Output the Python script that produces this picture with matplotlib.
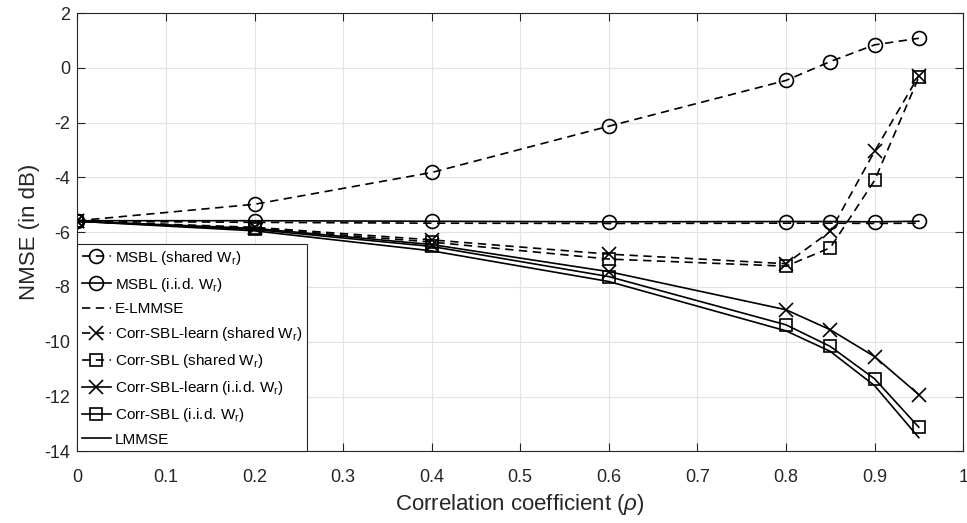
import matplotlib
matplotlib.use("Agg")
import matplotlib.pyplot as plt

plt.rcParams['font.family'] = ['Liberation Sans', 'DejaVu Sans']
plt.rcParams['mathtext.fontset'] = 'custom'
plt.rcParams['mathtext.it'] = 'Liberation Sans:italic'
plt.rcParams['mathtext.rm'] = 'Liberation Sans'
plt.rcParams['axes.unicode_minus'] = False

# Data
rho = [0, 0.2, 0.4, 0.6, 0.8, 0.85, 0.9, 0.95]
msbl_shared = [-5.58, -4.98, -3.82, -2.13, -0.46, 0.23, 0.84, 1.08]
msbl_iid = [-5.58, -5.58, -5.6, -5.62, -5.61, -5.61, -5.62, -5.6]
elmmse = [-5.6, -5.64, -5.67, -5.68, -5.67, -5.67, -5.68, -5.67]
corr_learn_shared = [-5.6, -5.82, -6.28, -6.8, -7.15, -5.97, -3.05, -0.28]
corr_shared = [-5.6, -5.85, -6.36, -6.98, -7.24, -6.57, -4.11, -0.34]
corr_learn_iid = [-5.6, -5.86, -6.45, -7.44, -8.83, -9.56, -10.54, -11.93]
corr_iid = [-5.6, -5.9, -6.52, -7.62, -9.38, -10.17, -11.35, -13.12]
lmmse = [-5.6, -5.95, -6.68, -7.8, -9.6, -10.35, -11.6, -13.5]

fig, ax = plt.subplots(figsize=(9.67, 5.23), dpi=100)
fig.subplots_adjust(left=0.080, right=0.996, top=0.975, bottom=0.137)

lw = 1.2
dash = (5, 3.3)
mk = dict(markerfacecolor='none', markeredgecolor='k', markeredgewidth=1.2)
sub = r'W$_{\mathrm{r}}$'

ax.plot(rho, msbl_shared, 'k--', dashes=dash, lw=lw, marker='o', ms=10, label='MSBL (shared ' + sub + ')', **mk)
ax.plot(rho, msbl_iid, 'k-', lw=lw, marker='o', ms=10, label='MSBL (i.i.d. ' + sub + ')', **mk)
ax.plot(rho, elmmse, 'k--', dashes=dash, lw=lw, label='E-LMMSE')
ax.plot(rho, corr_learn_shared, 'k--', dashes=dash, lw=lw, marker='x', ms=10, label='Corr-SBL-learn (shared ' + sub + ')', **mk)
ax.plot(rho, corr_shared, 'k--', dashes=dash, lw=lw, marker='s', ms=8, label='Corr-SBL (shared ' + sub + ')', **mk)
ax.plot(rho, corr_learn_iid, 'k-', lw=lw, marker='x', ms=10, label='Corr-SBL-learn (i.i.d. ' + sub + ')', **mk)
ax.plot(rho, corr_iid, 'k-', lw=lw, marker='s', ms=8, label='Corr-SBL (i.i.d. ' + sub + ')', **mk)
ax.plot(rho, lmmse, 'k-', lw=lw, label='LMMSE')

# Axes, ticks, grid
ax.set_xlim(0, 1)
ax.set_ylim(-14, 2)
ax.set_xticks([0, 0.1, 0.2, 0.3, 0.4, 0.5, 0.6, 0.7, 0.8, 0.9, 1])
ax.set_xticklabels(['0', '0.1', '0.2', '0.3', '0.4', '0.5', '0.6', '0.7', '0.8', '0.9', '1'])
ax.set_yticks(range(-14, 3, 2))
ax.tick_params(direction='in', length=6, width=0.8, top=True, right=True,
               labelsize=13, colors='#262626')
ax.tick_params(axis='x', pad=13)
ax.tick_params(axis='y', pad=5)
ax.grid(True, color='#e3e3e3', lw=0.8)
ax.set_axisbelow(True)
for s in ax.spines.values():
    s.set_color('#262626')
    s.set_linewidth(0.8)

ax.set_xlabel(r'Correlation coefficient ($\rho$)', fontsize=16, color='#262626', labelpad=4)
ax.set_ylabel('NMSE (in dB)', fontsize=16, color='#262626', labelpad=3)

leg = ax.legend(loc='lower left', bbox_to_anchor=(0, 0), fontsize=11, frameon=True,
                fancybox=False, edgecolor='#262626', framealpha=1, handlelength=1.9,
                handletextpad=0.25, borderaxespad=0, labelspacing=0.58, borderpad=0.3)
leg.get_frame().set_linewidth(0.8)

fig.savefig('out.png', dpi=100)
